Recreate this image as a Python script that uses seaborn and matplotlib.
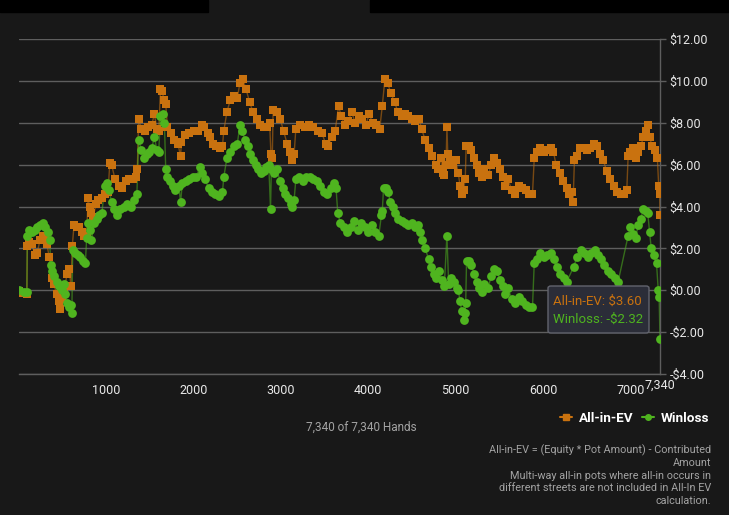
import matplotlib
matplotlib.use("Agg")
import matplotlib.pyplot as plt
import seaborn as sns
from matplotlib.lines import Line2D
from matplotlib.patches import Rectangle, FancyBboxPatch

# All-in-EV curve (hands, dollars)
ev_hands = [0, 50, 90, 95, 110, 150, 180, 210, 240, 270, 300, 320, 345, 375, 400, 430, 455, 470, 490, 520,
            550, 575, 595, 610, 630, 660, 690, 720, 750, 775, 790, 810, 830, 850, 880, 910, 950, 990, 1020, 1040,
            1060, 1100, 1140, 1180, 1220, 1260, 1300, 1340, 1355, 1370, 1400, 1440, 1480, 1520, 1550, 1580, 1600, 1620, 1640, 1660,
            1680, 1700, 1740, 1780, 1820, 1850, 1860, 1900, 1950, 2000, 2050, 2090, 2120, 2160, 2190, 2220, 2260, 2300, 2330, 2345,
            2380, 2420, 2460, 2500, 2530, 2560, 2600, 2640, 2680, 2720, 2760, 2800, 2840, 2870, 2885, 2900, 2910, 2950, 2990, 3030,
            3070, 3100, 3130, 3150, 3170, 3220, 3270, 3320, 3370, 3420, 3470, 3510, 3540, 3580, 3620, 3660, 3690, 3730, 3770, 3810,
            3850, 3890, 3930, 3970, 4010, 4050, 4090, 4130, 4160, 4190, 4220, 4260, 4300, 4340, 4380, 4420, 4460, 4500, 4540, 4580,
            4610, 4650, 4690, 4730, 4770, 4800, 4830, 4850, 4870, 4890, 4900, 4910, 4940, 4970, 5000, 5030, 5050, 5070, 5090, 5110,
            5120, 5150, 5180, 5210, 5240, 5270, 5300, 5330, 5370, 5410, 5440, 5470, 5510, 5540, 5570, 5600, 5640, 5680, 5720, 5760,
            5800, 5840, 5880, 5900, 5930, 5970, 6010, 6050, 6090, 6120, 6150, 6190, 6230, 6270, 6300, 6330, 6345, 6360, 6390, 6420,
            6460, 6500, 6540, 6580, 6620, 6650, 6690, 6730, 6770, 6810, 6850, 6890, 6930, 6960, 6975, 7000, 7030, 7060, 7090, 7120,
            7150, 7180, 7200, 7220, 7250, 7280, 7310, 7325, 7335, 7340]
ev_values = [-0.05, -0.15, -0.2, 2.1, 2.3, 2.2, 1.7, 1.8, 2.4, 2.6, 2.5, 2.2, 1.6, 0.6, 0.3, -0.2, -0.5, -0.9, -0.4, 0.0,
             0.8, 1.0, 0.2, 2.1, 3.1, 3.0, 3.0, 2.8, 2.6, 2.6, 4.4, 4.0, 3.7, 3.5, 4.1, 4.3, 4.4, 4.6, 4.7, 6.1,
             6.0, 5.3, 5.0, 4.9, 5.2, 5.3, 5.3, 5.4, 5.8, 8.2, 7.7, 7.6, 7.8, 7.9, 8.4, 7.7, 7.6, 9.6, 9.5, 9.1,
             8.9, 7.8, 7.5, 7.2, 7.0, 6.4, 7.1, 7.4, 7.5, 7.6, 7.6, 7.9, 7.8, 7.5, 7.3, 7.0, 6.9, 6.8, 6.9, 7.6,
             8.5, 9.1, 9.3, 9.2, 9.9, 10.1, 9.6, 9.0, 8.5, 8.2, 7.9, 7.8, 7.8, 8.0, 6.5, 6.3, 8.6, 8.5, 8.2, 7.6,
             7.0, 6.6, 6.2, 6.5, 7.7, 7.9, 7.8, 7.9, 7.8, 7.6, 7.5, 7.0, 6.9, 7.3, 7.6, 8.8, 8.3, 7.9, 8.1, 8.5,
             8.0, 8.3, 8.2, 7.9, 8.4, 8.0, 7.9, 7.7, 8.8, 10.1, 9.9, 9.4, 9.0, 8.5, 8.3, 8.4, 8.3, 8.2, 8.1, 8.2,
             7.7, 7.2, 6.8, 6.4, 6.0, 5.8, 6.3, 5.6, 5.5, 6.0, 7.8, 6.5, 6.2, 6.0, 6.2, 5.6, 5.0, 4.6, 4.8, 5.3,
             6.9, 6.9, 6.7, 6.3, 6.0, 5.6, 5.4, 5.8, 5.5, 6.0, 6.3, 6.1, 5.8, 5.4, 5.0, 5.3, 4.8, 4.6, 5.0, 4.9,
             4.8, 4.6, 4.6, 6.3, 6.6, 6.8, 6.6, 6.7, 6.8, 6.6, 6.0, 5.6, 5.2, 4.9, 4.6, 4.7, 4.2, 6.2, 6.4, 6.8,
             6.8, 6.7, 6.8, 7.0, 6.9, 6.5, 6.2, 5.7, 5.3, 5.0, 4.7, 4.6, 4.6, 4.8, 6.4, 6.6, 6.8, 6.3, 6.6, 6.9,
             7.3, 7.6, 7.9, 7.3, 6.9, 6.7, 6.3, 5.0, 4.6, 3.6]

# Winloss curve (hands, dollars)
wl_hands = [0, 60, 90, 95, 120, 150, 180, 210, 240, 270, 300, 330, 350, 365, 380, 400, 430, 460, 490, 510,
            530, 550, 570, 590, 605, 615, 640, 670, 700, 730, 760, 775, 790, 810, 830, 860, 890, 920, 950, 980,
            1010, 1030, 1060, 1090, 1120, 1160, 1200, 1240, 1280, 1320, 1350, 1370, 1400, 1430, 1460, 1490, 1520, 1550, 1580, 1600,
            1620, 1645, 1665, 1680, 1700, 1730, 1760, 1790, 1830, 1850, 1870, 1910, 1950, 1990, 2030, 2070, 2100, 2130, 2170, 2210,
            2250, 2290, 2330, 2345, 2380, 2420, 2460, 2500, 2530, 2550, 2590, 2620, 2650, 2680, 2710, 2740, 2770, 2800, 2830, 2860,
            2880, 2890, 2920, 2950, 2990, 3020, 3050, 3080, 3110, 3130, 3150, 3170, 3210, 3250, 3290, 3330, 3370, 3410, 3450, 3490,
            3530, 3570, 3610, 3630, 3650, 3680, 3720, 3760, 3800, 3840, 3880, 3920, 3960, 4000, 4040, 4080, 4120, 4150, 4160, 4175,
            4200, 4230, 4250, 4280, 4310, 4340, 4380, 4420, 4460, 4500, 4540, 4570, 4590, 4620, 4650, 4690, 4720, 4750, 4780, 4810,
            4840, 4870, 4900, 4920, 4950, 4980, 5010, 5030, 5050, 5070, 5090, 5105, 5115, 5125, 5150, 5180, 5210, 5240, 5270, 5300,
            5330, 5370, 5410, 5440, 5470, 5510, 5540, 5570, 5600, 5640, 5680, 5720, 5760, 5800, 5840, 5880, 5900, 5930, 5970, 6010,
            6050, 6090, 6130, 6160, 6200, 6240, 6270, 6350, 6390, 6430, 6470, 6510, 6550, 6590, 6630, 6670, 6700, 6740, 6780, 6820,
            6860, 6975, 7000, 7030, 7060, 7090, 7120, 7150, 7180, 7200, 7220, 7240, 7270, 7300, 7320, 7330, 7340]
wl_values = [0.0, -0.1, -0.1, 2.6, 2.9, 2.8, 2.9, 3.0, 3.1, 3.2, 3.0, 2.8, 2.4, 1.2, 0.9, 0.7, 0.4, 0.2, 0.0, 0.3,
             -0.2, -0.6, -0.8, -0.7, -1.1, 1.9, 1.8, 1.7, 1.6, 1.4, 1.3, 2.5, 3.2, 2.9, 2.4, 3.2, 3.4, 3.6, 3.7, 5.0,
             5.1, 4.8, 4.2, 3.9, 3.6, 3.9, 4.0, 4.1, 4.0, 4.3, 4.6, 7.2, 6.7, 6.3, 6.5, 6.6, 6.8, 7.3, 6.7, 6.6,
             8.3, 8.4, 8.0, 5.8, 5.4, 5.2, 5.0, 4.8, 5.0, 4.2, 5.1, 5.2, 5.3, 5.4, 5.4, 5.9, 5.6, 5.3, 4.9, 4.7,
             4.6, 4.5, 4.7, 5.4, 6.3, 6.6, 6.9, 7.0, 7.9, 7.6, 7.2, 6.9, 6.5, 6.2, 6.0, 5.8, 5.6, 5.7, 5.9, 6.0,
             3.9, 5.8, 5.6, 5.8, 5.2, 4.9, 4.6, 4.4, 4.1, 4.0, 4.3, 5.3, 5.4, 5.2, 5.4, 5.4, 5.3, 5.2, 5.0, 4.7,
             4.6, 4.9, 5.1, 4.9, 3.7, 3.2, 3.0, 2.8, 3.0, 3.3, 2.9, 3.2, 3.0, 2.8, 3.1, 2.8, 2.6, 3.6, 3.8, 4.9,
             4.9, 4.7, 4.2, 4.0, 3.7, 3.4, 3.3, 3.2, 3.1, 3.2, 3.0, 3.1, 2.8, 2.4, 2.0, 1.5, 1.1, 0.8, 0.6, 0.9,
             0.5, 0.2, 2.6, 0.3, 0.6, 0.4, 0.1, 0.0, -0.5, -1.0, -1.4, -1.1, -0.6, 1.4, 1.4, 1.2, 0.8, 0.4, 0.1, -0.1,
             0.3, 0.1, 0.7, 1.0, 0.9, 0.5, 0.2, -0.2, 0.1, -0.4, -0.6, -0.3, -0.5, -0.7, -0.8, -0.8, 1.3, 1.5, 1.8, 1.6,
             1.7, 1.8, 1.5, 1.1, 0.8, 0.6, 0.4, 1.1, 1.6, 1.9, 1.8, 1.6, 1.8, 1.9, 1.7, 1.5, 1.2, 0.9, 0.8, 0.6,
             0.4, 2.6, 3.0, 2.7, 2.5, 3.1, 3.4, 3.9, 3.8, 3.7, 2.8, 2.0, 1.7, 1.3, 0.0, -0.3, -2.32]

y_ticks = [-4, -2, 0, 2, 4, 6, 8, 10, 12]
x_ticks = [0, 1000, 2000, 3000, 4000, 5000, 6000, 7000]
total_hands = 7340

footnote = ["All-in-EV = (Equity * Pot Amount) - Contributed", "Amount",
            "Multi-way all-in pots where all-in occurs in",
            "different streets are not included in All-In EV", "calculation."]

BG = "#181818"
ORANGE = "#c9720f"
GREEN = "#4fb41f"
GRID = "#5e5e5e"

sns.set_theme(style="dark")
plt.rcParams["font.family"] = ["Roboto", "DejaVu Sans"]

W, H = 729, 515
fig = plt.figure(figsize=(W / 100, H / 100), dpi=100, facecolor=BG)

# black strips across the top
fig.patches.append(Rectangle((0, 1 - 12 / H), 208 / W, 12 / H, transform=fig.transFigure, color="black"))
fig.patches.append(Rectangle((370 / W, 1 - 12 / H), 359 / W, 12 / H, transform=fig.transFigure, color="black"))

ax = fig.add_axes([19 / W, 1 - 374 / H, 641 / W, 335 / H])
ax.set_facecolor(BG)

sns.lineplot(x=ev_hands, y=ev_values, ax=ax, color=ORANGE, linewidth=1, alpha=0.55, sort=False, estimator=None)
sns.scatterplot(x=ev_hands, y=ev_values, ax=ax, color=ORANGE, marker="s", s=40, linewidth=0, zorder=3)
sns.lineplot(x=wl_hands, y=wl_values, ax=ax, color=GREEN, linewidth=1, alpha=0.55, sort=False, estimator=None)
sns.scatterplot(x=wl_hands, y=wl_values, ax=ax, color=GREEN, marker="o", s=40, linewidth=0, zorder=4)

ax.set_xlim(0, total_hands)
ax.set_ylim(-4, 12)
ax.set_xlabel("")
ax.set_ylabel("")

ax.yaxis.tick_right()
ax.set_yticks(y_ticks)
ax.set_yticklabels([f"${v:.2f}" if v >= 0 else f"-${-v:.2f}" for v in y_ticks])
ax.set_xticks(x_ticks + [total_hands])
ax.set_xticklabels([""] + [str(v) for v in x_ticks[1:]] + [""])
ax.tick_params(axis="both", colors=GRID, labelcolor="#e8e8e8", labelsize=9, length=4, width=1, pad=3)
ax.tick_params(axis="y", left=False, right=True)
ax.annotate("7,340", xy=(total_hands, -4), xytext=(0, -3.5), textcoords="offset points",
            ha="center", va="top", color="#e8e8e8", fontsize=9, annotation_clip=False)

ax.grid(False)
ax.yaxis.grid(True, color=GRID, linewidth=1)
for side in ["top", "left"]:
    ax.spines[side].set_visible(False)
for side in ["bottom", "right"]:
    ax.spines[side].set_color(GRID)
    ax.spines[side].set_linewidth(1)

# tooltip
fig.patches.append(FancyBboxPatch((548 / W, 1 - 333 / H), 101 / W, 47 / H, transform=fig.transFigure,
                                  boxstyle="round,pad=0,rounding_size=0.004", facecolor="#2b2d38",
                                  edgecolor="#62646e", linewidth=1, zorder=10))
fig.text(553 / W, 1 - 301 / H, "All-in-EV: $3.60", color=ORANGE, fontsize=9.5, va="center", zorder=11)
fig.text(553 / W, 1 - 319 / H, "Winloss: -$2.32", color=GREEN, fontsize=9.5, va="center", zorder=11)

# legend
handles = [Line2D([], [], color=ORANGE, marker="s", markersize=4.5, linewidth=1.5),
           Line2D([], [], color=GREEN, marker="o", markersize=4, linewidth=1.5)]
fig.legend(handles, ["All-in-EV", "Winloss"], loc="center right", bbox_to_anchor=(721 / W, 1 - 418 / H),
           ncol=2, frameon=False, handlelength=0.9, handletextpad=0.5, columnspacing=0.6,
           labelcolor="white", prop={"weight": "bold", "size": 9.7})

fig.text(361 / W, 1 - 427 / H, "7,340 of 7,340 Hands", color="#a3a3a3", fontsize=8.5, ha="center", va="center")
fig.text(711 / W, 1 - 444 / H, "\n".join(footnote), color="#a3a3a3", fontsize=7.8,
         ha="right", va="top", linespacing=1.32, multialignment="right")

fig.savefig("out.png", dpi=100, facecolor=BG)
